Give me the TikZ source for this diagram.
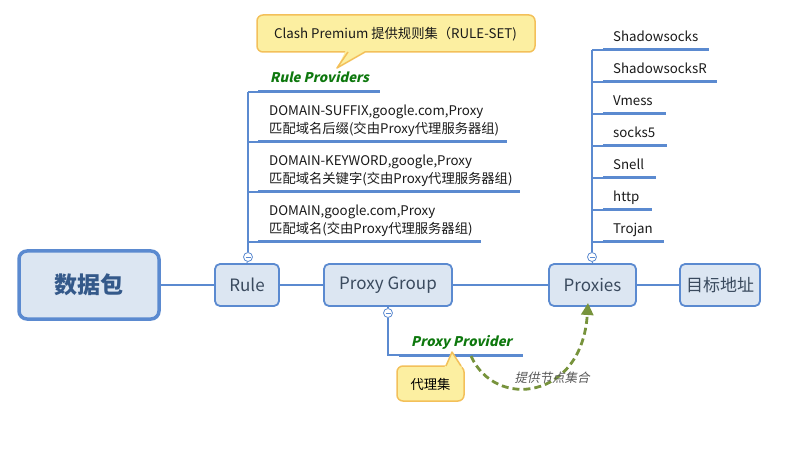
\documentclass[tikz,border=0pt]{standalone}
\usepackage{fontspec}
\setmainfont{Noto Sans CJK SC}
\newfontfamily\slfont{Noto Sans CJK SC}[FakeSlant=0.22]
\usetikzlibrary{arrows.meta}
\definecolor{linecol}{HTML}{5B8AD0}
\definecolor{nodefill}{HTML}{DCE6F2}
\definecolor{nodetext}{HTML}{3A4A5E}
\definecolor{maintext}{HTML}{34598A}
\definecolor{callfill}{HTML}{FCEFA1}
\definecolor{callborder}{HTML}{F3C05A}
\definecolor{greentext}{HTML}{0E780E}
\definecolor{arrowcol}{HTML}{77933C}
\definecolor{labelgray}{HTML}{595959}
\tikzset{
  box/.style={draw=linecol, fill=nodefill, line width=1.8pt, rounded corners=5pt,
    minimum height=42pt, inner sep=0pt, text=nodetext, font=\fontsize{17}{20}\selectfont},
  mainbox/.style={draw=linecol, fill=nodefill, line width=3.5pt, rounded corners=8pt,
    minimum width=140pt, minimum height=68pt, inner sep=0pt, text=maintext,
    font=\fontsize{23}{26}\selectfont\bfseries},
  conn/.style={draw=linecol, line width=1.1pt},
  uline/.style={draw=linecol, line width=3pt},
  item/.style={anchor=base west, inner sep=0pt, text=black!90, font=\fontsize{13.3}{16}\selectfont},
  grn/.style={anchor=base west, inner sep=0pt, text=greentext, font=\fontsize{13.3}{16}\selectfont\slfont\bfseries},
  collapse/.style={circle, draw=linecol, fill=white, line width=0.8pt, minimum size=9pt, inner sep=0pt,
    path picture={\draw[linecol, line width=0.8pt] ([xshift=-2.5pt]path picture bounding box.center) -- ([xshift=2.5pt]path picture bounding box.center);}},
  callbox/.style={draw=callborder, fill=callfill, line width=1.5pt, rounded corners=6pt, inner sep=0pt}
}
\begin{document}
\begin{tikzpicture}[x=1pt, y=-1pt]
\useasboundingbox (0,0) rectangle (793,465);

% main nodes
\node[mainbox] (main) at (89,285) {数据包};
\node[box, minimum width=64pt] (rule) at (247,285) {Rule};
\node[box, minimum width=128pt] (pg) at (388,285) {Proxy Group};
\node[box, minimum width=87pt] (proxies) at (592.5,285) {Proxies};
\node[box, minimum width=80pt] (target) at (720,285) {目标地址};

\draw[conn] (main) -- (rule);
\draw[conn] (rule) -- (pg);
\draw[conn] (pg) -- (proxies);
\draw[conn] (proxies) -- (target);

% ---------- Rule branch ----------
\node[collapse] (rc) at (248,257) {};
\draw[conn] (rule.north) -- (rc);
\coordinate (r0) at (248,92);
\coordinate (r1) at (248,142);
\coordinate (r2) at (248,192);
\coordinate (r3) at (248,242);
\coordinate (r0s) at (258,92);
\coordinate (r1s) at (258,142);
\coordinate (r2s) at (258,192);
\coordinate (r3s) at (258,242);
\coordinate (r0e) at (380,92);
\coordinate (r1e) at (507,142);
\coordinate (r2e) at (520,192);
\coordinate (r3e) at (481,242);
\draw[conn] (rc) -- (r0);
\foreach \i in {0,1,2,3} {
  \draw[conn] (r\i) -- (r\i s);
  \draw[uline] (r\i s) -- (r\i e);
}
\node[grn] (rp) at (270,83) {Rule Providers};
\node[item] (a1) at (269,116) {DOMAIN-SUFFIX,google.com,Proxy};
\node[item] (a2) at (269,134) {匹配域名后缀(交由Proxy代理服务器组)};
\node[item] (b1) at (269,166) {DOMAIN-KEYWORD,google,Proxy};
\node[item] (b2) at (269,184) {匹配域名关键字(交由Proxy代理服务器组)};
\node[item] (c1) at (269,216) {DOMAIN,google.com,Proxy};
\node[item] (c2) at (269,234) {匹配域名(交由Proxy代理服务器组)};

% Clash Premium callout
\node[callbox, minimum width=278pt, minimum height=37pt] (clash) at (396,33.5) {};
\fill[callfill] (346,50) -- (337,68) -- (367,50) -- cycle;
\draw[callborder, line width=1.5pt, line join=round] (348,52) -- (337,68) -- (365,52);
\node[item] (clashtxt) at (274,39) {Clash Premium 提供规则集（RULE-SET)};

% ---------- Proxies branch ----------
\node[collapse] (pc) at (592,257) {};
\draw[conn] (proxies.north) -- (pc);
\coordinate (p0) at (592,50);
\draw[conn] (pc) -- (p0);
\foreach \i/\y/\e/\t in {0/50/709/Shadowsocks, 1/82/717/ShadowsocksR, 2/114/666/Vmess, 3/146/667/socks5, 4/178/656/Snell, 5/210/652/http, 6/242/664/Trojan} {
  \coordinate (q\i) at (592,\y);
  \coordinate (q\i s) at (603,\y);
  \coordinate (q\i e) at (\e,\y);
  \draw[conn] (q\i) -- (q\i s);
  \draw[uline] (q\i s) -- (q\i e);
  \node[item] (pt\i) at (613,\y-8) {\t};
}

% ---------- Proxy Group branch ----------
\node[collapse] (gc) at (388,313) {};
\draw[conn] (pg.south) -- (gc);
\coordinate (g0) at (388,355);
\coordinate (g0s) at (399,355);
\coordinate (g0e) at (523,355);
\draw[conn] (gc) -- (g0) -- (g0s);
\draw[uline] (g0s) -- (g0e);
\node[grn] (pprov) at (411,346) {Proxy Provider};

% 代理集 callout
\node[callbox, minimum width=67pt, minimum height=35pt] (dlj) at (430.5,383.5) {};
\fill[callfill] (444,368) -- (452,352) -- (462,368) -- cycle;
\draw[callborder, line width=1.5pt, line join=round] (446,366) -- (452,352) -- (461,366);
\node[anchor=center, inner sep=0pt, font=\fontsize{13.3}{16}\selectfont] (dljtxt) at (430.5,384) {代理集};

% dashed arrow
\coordinate (as) at (471,356);
\coordinate (ae) at (588,303);
\draw[arrowcol, line width=2.8pt, dash pattern=on 7pt off 4pt,
  -{Triangle[length=12pt,width=12pt]}]
  (as) .. controls (495,410) and (582,400) .. (ae);
\node[anchor=center, inner sep=0pt, text=labelgray, font=\fontsize{12.5}{14}\selectfont\slfont] (albl) at (552,378) {提供节点集合};

\end{tikzpicture}
\end{document}
